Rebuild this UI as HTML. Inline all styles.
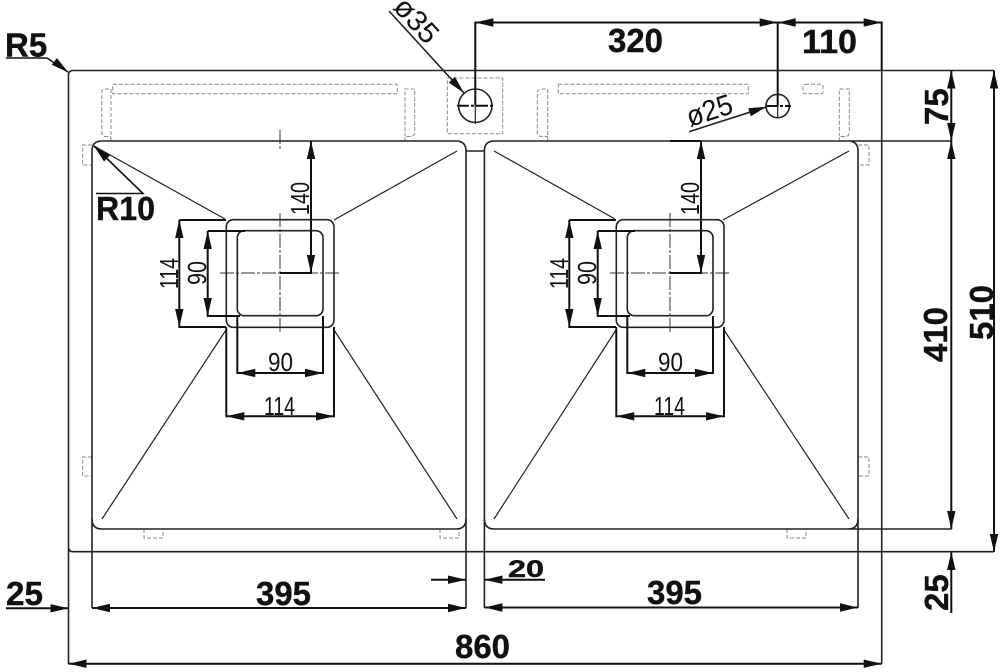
<!DOCTYPE html>
<html><head><meta charset="utf-8"><style>
html,body{margin:0;padding:0;background:#fff}
svg{display:block}
text{font-family:"Liberation Sans",sans-serif;fill:#111}
.b{font-weight:bold;font-size:33px;stroke:#111;stroke-width:.4}
.t{font-size:26px}
.s{fill:none;stroke:#222;stroke-width:1.6}
.d{fill:none;stroke:#111;stroke-width:2}
.n{fill:none;stroke:#222;stroke-width:1.2}
.h{fill:none;stroke:#888;stroke-width:1;stroke-dasharray:4 2}
.c{fill:none;stroke:#333;stroke-width:1;stroke-dasharray:14 2 3 2}
</style></head><body>
<svg width="1000" height="672" viewBox="0 0 1000 672" xmlns="http://www.w3.org/2000/svg">
<defs><path id="a" d="M0 0L-18 -4.2L-18 4.2Z" fill="#111"/></defs>

<!-- hidden lines -->
<path class="h" d="M112.7 84.3H397.3V93.7H112.7ZM558.3 84.3H748.3V93.7H558.3ZM447.3 78H502.7V133.7H447.3Z"/>
<rect class="h" x="803" y="84.3" width="20" height="9.5" rx="2"/>
<path class="h" d="M111 141V89H105Q101.7 89 101.7 93V132Q101.7 136.5 106 136.5H111"/>
<path class="h" d="M405 141V136.5H410Q414.7 136.5 414.7 132V89H405V136"/>
<path class="h" d="M547.7 141V89H541Q537.3 89 537.3 93V132Q537.3 136.5 542 136.5H547.7"/>
<path class="h" d="M839.3 141V136.5H845Q849.3 136.5 849.3 132V89H839.3V136"/>
<path class="h" d="M92 145H82.7V165H92M92 457H82.7V476H92M858 145H869V165H858M858 457H869V476H858"/>
<path class="h" d="M144 529V538H163V529M440 529V538H459V529M787 529V538H806V529"/>

<!-- outline -->
<path class="s" d="M68.5 75Q68.5 70.5 73 70.5H994M881.7 70.5V664M68.5 75V664M68.5 547Q68.5 551.7 73 551.7H994"/>
<!-- sinks -->
<path class="s" d="M92 608V151Q92 141 102 141H456Q466 141 466 151V608M484.4 608V151Q484.4 141 494.4 141H951.5M466 151H484.4M858 608V151Q858 141 848 141"/>
<path class="s" d="M92 519Q92 529 102 529H456Q466 529 466 519M484.4 519Q484.4 529 494.4 529H951.5M858 519Q858 529 848 529"/>
<!-- diagonals -->
<path class="n" d="M94 146L225 219M457 151L334 220M102 519L226 330M457 519L334 330M494 151L615 219M849 151L723 220M494 519L616 330M849 519L724 330"/>

<!-- left drain -->
<g>
<rect class="s" x="226.3" y="219.7" width="107.7" height="107.6" rx="7"/>
<rect class="s" x="237.3" y="230.7" width="85.7" height="85" rx="7"/>
<path class="c" d="M280 130V150M280 213V333M220 273H341"/>
<path class="d" d="M311 141V273H280M179.3 220H226V220M179.3 220V327H226M207.7 231H245M207.7 231V316H240M237.3 316V373H323V316M226.3 327V416.3H334V327"/>
<use href="#a" transform="translate(311,141) rotate(-90)"/>
<use href="#a" transform="translate(311,273) rotate(90)"/>
<use href="#a" transform="translate(179.3,220) rotate(-90)"/>
<use href="#a" transform="translate(179.3,327) rotate(90)"/>
<use href="#a" transform="translate(207.7,231) rotate(-90)"/>
<use href="#a" transform="translate(207.7,316) rotate(90)"/>
<use href="#a" transform="translate(237.3,373) rotate(180)"/>
<use href="#a" transform="translate(323,373)"/>
<use href="#a" transform="translate(226.3,416.3) rotate(180)"/>
<use href="#a" transform="translate(334,416.3)"/>
<text class="t" transform="translate(309,215) rotate(-90)" textLength="33" lengthAdjust="spacingAndGlyphs">140</text>
<text class="t" transform="translate(178,289) rotate(-90)" textLength="31" lengthAdjust="spacingAndGlyphs">114</text>
<text class="t" transform="translate(206,285) rotate(-90)" textLength="24" lengthAdjust="spacingAndGlyphs">90</text>
<text class="t" x="268" y="371" textLength="25" lengthAdjust="spacingAndGlyphs">90</text>
<text class="t" x="264" y="415" textLength="31" lengthAdjust="spacingAndGlyphs">114</text>
</g>

<!-- right drain -->
<g transform="translate(390,0)">
<rect class="s" x="226.3" y="219.7" width="107.7" height="107.6" rx="7"/>
<rect class="s" x="237.3" y="230.7" width="85.7" height="85" rx="7"/>
<path class="c" d="M280 213V333M220 273H341"/>
<path class="d" d="M311 141V273H280M280 141H311M179.3 220H226V220M179.3 220V327H226M207.7 231H245M207.7 231V316H240M237.3 316V373H323V316M226.3 327V416.3H334V327"/>
<use href="#a" transform="translate(311,141) rotate(-90)"/>
<use href="#a" transform="translate(311,273) rotate(90)"/>
<use href="#a" transform="translate(179.3,220) rotate(-90)"/>
<use href="#a" transform="translate(179.3,327) rotate(90)"/>
<use href="#a" transform="translate(207.7,231) rotate(-90)"/>
<use href="#a" transform="translate(207.7,316) rotate(90)"/>
<use href="#a" transform="translate(237.3,373) rotate(180)"/>
<use href="#a" transform="translate(323,373)"/>
<use href="#a" transform="translate(226.3,416.3) rotate(180)"/>
<use href="#a" transform="translate(334,416.3)"/>
<text class="t" transform="translate(309,215) rotate(-90)" textLength="33" lengthAdjust="spacingAndGlyphs">140</text>
<text class="t" transform="translate(178,289) rotate(-90)" textLength="31" lengthAdjust="spacingAndGlyphs">114</text>
<text class="t" transform="translate(206,285) rotate(-90)" textLength="24" lengthAdjust="spacingAndGlyphs">90</text>
<text class="t" x="268" y="371" textLength="25" lengthAdjust="spacingAndGlyphs">90</text>
<text class="t" x="264" y="415" textLength="31" lengthAdjust="spacingAndGlyphs">114</text>
</g>

<!-- holes -->
<circle class="s" cx="475.3" cy="105.7" r="16.7"/>
<circle class="s" cx="777.7" cy="106" r="11.7"/>
<path class="d" d="M457 105.7H494M766 106H791" stroke-dasharray="12 2 3 2"/>
<path class="n" d="M475.3 105V124M777.7 106V118"/>

<!-- top dims -->
<path class="d" d="M475.3 105V22.5H881.7V70M777.7 22.5V106"/>
<use href="#a" transform="translate(475.3,22.5) rotate(180)"/>
<use href="#a" transform="translate(777.7,22.5)"/>
<use href="#a" transform="translate(777.7,22.5) rotate(180)"/>
<use href="#a" transform="translate(881.7,22.5)"/>
<text class="b" x="608" y="52" textLength="55" lengthAdjust="spacingAndGlyphs">320</text>
<text class="b" x="802" y="53" textLength="55" lengthAdjust="spacingAndGlyphs">110</text>

<!-- leader 35 / 25 -->
<path class="n" d="M389 11L464 93M689 131.7L767 106.7" style="stroke-width:1.6"/>
<use href="#a" transform="translate(464,93) rotate(47.5)"/>
<use href="#a" transform="translate(766.7,106.7) rotate(-17.8)"/>
<text class="t" transform="translate(392,8) rotate(47.5)" style="font-size:29px" textLength="51" lengthAdjust="spacingAndGlyphs">ø35</text>
<text class="t" transform="translate(690,127) rotate(-17.8)" style="font-size:29px" textLength="47" lengthAdjust="spacingAndGlyphs">ø25</text>

<!-- right dims -->
<path class="d" d="M951.3 70.5V529M994 70.5V552M951.3 552V613"/>
<use href="#a" transform="translate(951.3,70.5) rotate(-90)"/>
<use href="#a" transform="translate(951.3,141) rotate(90)"/>
<use href="#a" transform="translate(951.3,141) rotate(-90)"/>
<use href="#a" transform="translate(951.3,529) rotate(90)"/>
<use href="#a" transform="translate(994,70.5) rotate(-90)"/>
<use href="#a" transform="translate(994,552) rotate(90)"/>
<use href="#a" transform="translate(951.3,552) rotate(-90)"/>
<text class="b" transform="translate(948,125) rotate(-90)">75</text>
<text class="b" transform="translate(947,362) rotate(-90)" textLength="55" lengthAdjust="spacingAndGlyphs">410</text>
<text class="b" transform="translate(993,340) rotate(-90)" textLength="55" lengthAdjust="spacingAndGlyphs">510</text>
<text class="b" transform="translate(948,611) rotate(-90)">25</text>

<!-- bottom dims -->
<path class="d" d="M92 608H466M484.4 607.5H858M68.5 663.7H881.7M6 608.3H68M431 579.7H466M484.4 579.7H545"/>
<use href="#a" transform="translate(92,608) rotate(180)"/>
<use href="#a" transform="translate(466,608)"/>
<use href="#a" transform="translate(484.4,607.5) rotate(180)"/>
<use href="#a" transform="translate(858,607.5)"/>
<use href="#a" transform="translate(68.5,663.7) rotate(180)"/>
<use href="#a" transform="translate(881.7,663.7)"/>
<use href="#a" transform="translate(68.5,608.3)"/>
<use href="#a" transform="translate(466,579.7)"/>
<use href="#a" transform="translate(484.4,579.7) rotate(180)"/>
<text class="b" x="256" y="605" textLength="55" lengthAdjust="spacingAndGlyphs">395</text>
<text class="b" x="647" y="604" textLength="55" lengthAdjust="spacingAndGlyphs">395</text>
<text class="b" x="455" y="658" textLength="55" lengthAdjust="spacingAndGlyphs">860</text>
<text class="b" x="6" y="605" textLength="37" lengthAdjust="spacingAndGlyphs">25</text>
<text class="b" x="508" y="577" style="font-size:24px" textLength="36" lengthAdjust="spacingAndGlyphs">20</text>

<!-- R labels -->
<path class="d" d="M6 58H47L68 72" style="stroke-width:1.6"/>
<use href="#a" transform="translate(68.5,72.5) rotate(38)"/>
<text class="b" x="5" y="56.5">R5</text>
<path class="d" d="M96 193.5H143L94 146" style="stroke-width:1.6"/>
<use href="#a" transform="translate(94,146) rotate(224)"/>
<text class="b" x="96" y="220" textLength="59" lengthAdjust="spacingAndGlyphs">R10</text>
</svg>
</body></html>
